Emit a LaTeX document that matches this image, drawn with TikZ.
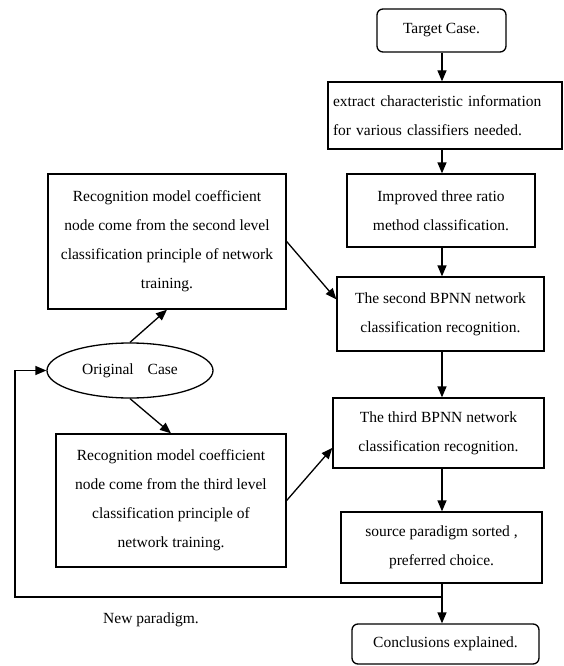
\documentclass[tikz,border=0pt]{standalone}
\usepackage{fontspec}
\setmainfont{Liberation Serif}
\usetikzlibrary{arrows.meta,shapes.geometric}
\begin{document}
\begin{tikzpicture}[x=1pt,y=-1pt,
  font=\fontsize{15.5}{29}\selectfont,
  box/.style={draw, line width=1.3pt, rectangle, align=center, inner sep=0pt},
  rbox/.style={box, rounded corners=6pt},
  oval/.style={draw, line width=1.3pt, ellipse, inner sep=0pt},
  link/.style={line width=1.3pt, -{Triangle[length=11pt,width=9pt]}},
  plain/.style={line width=1.3pt}]
\useasboundingbox (0,0) rectangle (564,666);

% main column
\coordinate (col) at (442,0);
\node[rbox, minimum width=129pt, minimum height=43pt] (target) at (441.5,30.5) {Target Case.};
\node[box, minimum width=234pt, minimum height=67pt, text width=224pt, align=left] (extract) at (445,115.5)
  {extract characteristic information\\for various classifiers needed.};
\node[box, minimum width=188pt, minimum height=73pt] (ratio) at (441,210.5)
  {Improved three ratio\\method classification.};
\node[box, minimum width=207pt, minimum height=74pt] (second) at (440.5,314)
  {The second BPNN network\\classification recognition.};
\node[box, minimum width=211pt, minimum height=70pt] (third) at (438.5,433)
  {The third BPNN network\\classification recognition.};
\node[box, minimum width=201pt, minimum height=71pt] (sorted) at (441.5,547.5)
  {source paradigm sorted ,\\preferred choice.};
\node[rbox, minimum width=187pt, minimum height=40pt] (concl) at (445.5,644)
  {Conclusions explained.};

% left side
\node[box, minimum width=238pt, minimum height=135pt] (lvl2) at (167,241.5)
  {Recognition model coefficient\\node come from the second level\\classification principle of network\\training.};
\node[oval, minimum width=166pt, minimum height=55pt] (orig) at (130,370.5)
  {Original\hspace{0.9em}Case};
\node[box, minimum width=230pt, minimum height=133pt] (lvl3) at (171,500.5)
  {Recognition model coefficient\\node come from the third level\\classification principle of\\network training.};
\node (newpar) at (151,620) {New paradigm.};

% vertical flow
\draw[link] (target.south -| col) -- (extract.north -| col);
\draw[link] (extract.south -| col) -- (ratio.north -| col);
\draw[link] (ratio.south -| col) -- (second.north -| col);
\draw[link] (second.south -| col) -- (third.north -| col);
\draw[link] (third.south -| col) -- (sorted.north -| col);
\draw[link] (sorted.south -| col) -- (concl.north -| col);

% side links
\draw[link] (lvl2.east) -- (second.172);
\draw[link] (lvl3.east) -- (third.188);
\draw[link] (orig.north) -- (lvl2.south);
\draw[link] (orig.south) -- (lvl3.north);

% feedback loop
\coordinate (join) at (442,597);
\coordinate (corner) at (15,597);
\draw[link] (join) -- (corner) |- (orig.west);
\end{tikzpicture}
\end{document}
